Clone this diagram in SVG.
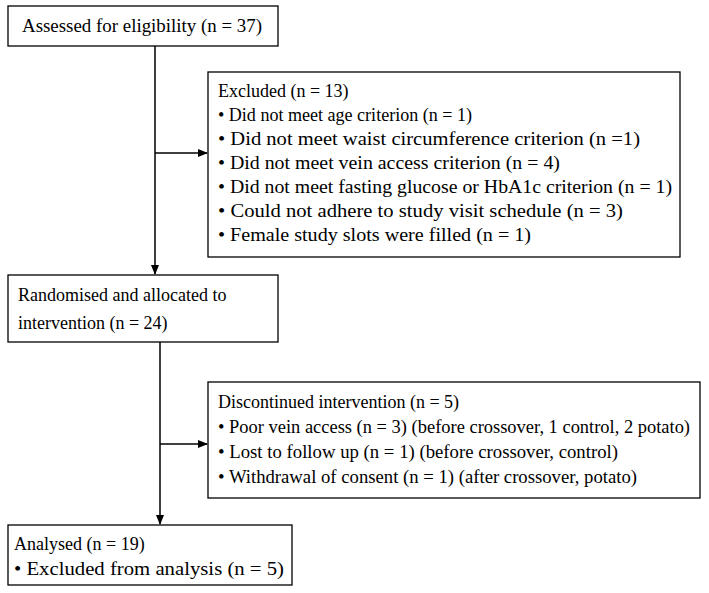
<svg xmlns="http://www.w3.org/2000/svg" width="709" height="593" viewBox="0 0 709 593">
<style>
rect{fill:#fff;stroke:#000;stroke-width:1.3}
text{font-family:"Liberation Serif","Times New Roman",serif;font-size:18px;fill:#000}
.c line{stroke:#000;stroke-width:1.5;marker-end:url(#a)}
</style>
<defs><marker id="a" markerWidth="10" markerHeight="10" refX="9" refY="5" orient="auto" markerUnits="userSpaceOnUse"><path d="M0,1 L10,5 L0,9 Z" fill="#000"/></marker></defs>
<rect width="709" height="593" style="stroke:none"/>
<g class="c">
<line x1="155" y1="46" x2="155" y2="274"/>
<line x1="155" y1="153" x2="207" y2="153"/>
<line x1="160" y1="342" x2="160" y2="524"/>
<line x1="160" y1="444" x2="207" y2="444"/>
</g>
<g id="n1"><rect x="8" y="6" width="270" height="40"/><text x="22" y="32" textLength="240" lengthAdjust="spacingAndGlyphs">Assessed for eligibility (n = 37)</text></g>
<g id="n2"><rect x="208" y="72" width="472" height="185"/>
<text x="218" y="97">Excluded (n = 13)</text>
<text x="218" y="121" textLength="254" lengthAdjust="spacingAndGlyphs">• Did not meet age criterion (n = 1)</text>
<text x="218" y="145" textLength="422" lengthAdjust="spacingAndGlyphs">• Did not meet waist circumference criterion (n =1)</text>
<text x="218" y="169" textLength="342" lengthAdjust="spacingAndGlyphs">• Did not meet vein access criterion (n = 4)</text>
<text x="218" y="193" textLength="454" lengthAdjust="spacingAndGlyphs">• Did not meet fasting glucose or HbA1c criterion (n = 1)</text>
<text x="218" y="217" textLength="405" lengthAdjust="spacingAndGlyphs">• Could not adhere to study visit schedule (n = 3)</text>
<text x="218" y="241" textLength="313" lengthAdjust="spacingAndGlyphs">• Female study slots were filled (n = 1)</text></g>
<g id="n3"><rect x="8" y="275" width="270" height="67"/><text x="18" y="301">Randomised and allocated to</text><text x="18" y="329">intervention (n = 24)</text></g>
<g id="n4"><rect x="208" y="382" width="492" height="116"/>
<text x="218" y="408">Discontinued intervention (n = 5)</text>
<text x="218" y="433" textLength="472" lengthAdjust="spacingAndGlyphs">• Poor vein access (n = 3) (before crossover, 1 control, 2 potato)</text>
<text x="218" y="458" textLength="400" lengthAdjust="spacingAndGlyphs">• Lost to follow up (n = 1) (before crossover, control)</text>
<text x="218" y="483" textLength="419" lengthAdjust="spacingAndGlyphs">• Withdrawal of consent (n = 1) (after crossover, potato)</text></g>
<g id="n5"><rect x="8" y="525" width="284" height="60"/><text x="14" y="550">Analysed (n = 19)</text><text x="14" y="575" textLength="270" lengthAdjust="spacingAndGlyphs">• Excluded from analysis (n = 5)</text></g>
</svg>
